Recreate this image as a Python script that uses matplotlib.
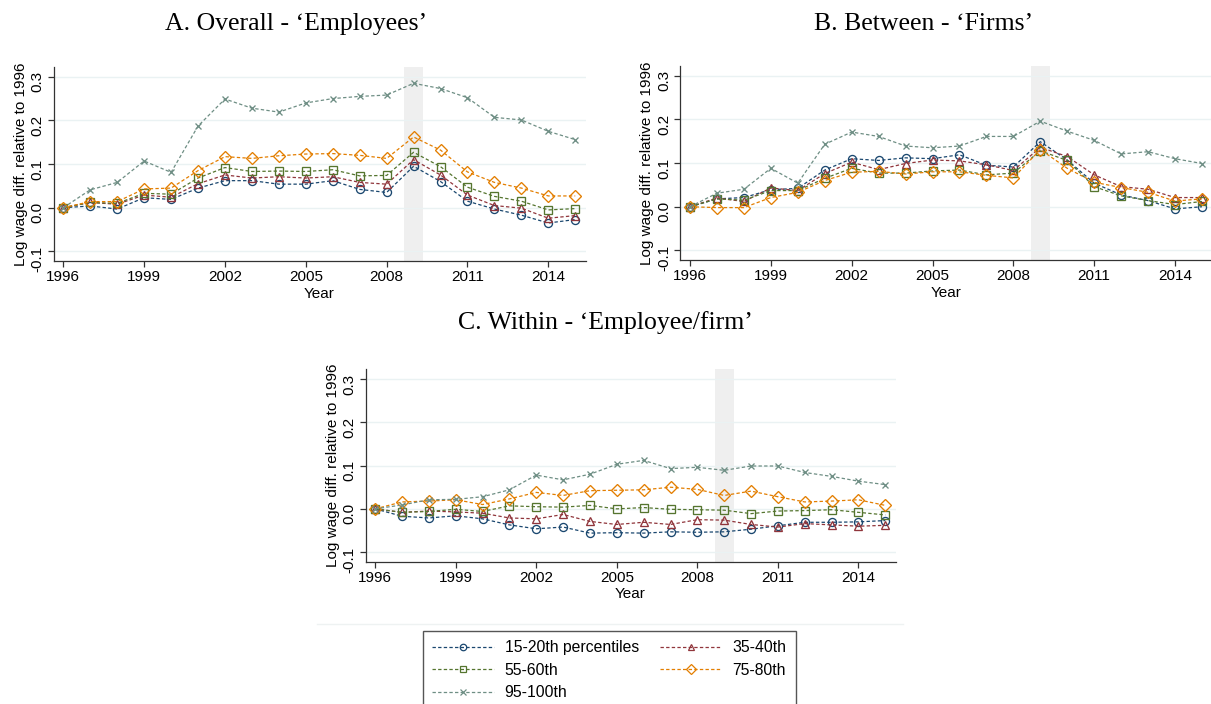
import matplotlib
matplotlib.use("Agg")
import matplotlib.pyplot as plt
from matplotlib.lines import Line2D

years = list(range(1996, 2016))
xticks = [1996, 1999, 2002, 2005, 2008, 2011, 2014]
yticks = [-0.1, 0.0, 0.1, 0.2, 0.3]
ytick_labels = ["-0.1", "0.0", "0.1", "0.2", "0.3"]

# A. overall
a_p15 = [0, 0.004, -0.003, 0.023, 0.019, 0.045, 0.062, 0.062, 0.054, 0.054, 0.062, 0.042, 0.035, 0.095, 0.060, 0.015, -0.003, -0.017, -0.035, -0.027]
a_p35 = [0, 0.012, 0.008, 0.029, 0.024, 0.055, 0.075, 0.068, 0.071, 0.068, 0.071, 0.058, 0.054, 0.110, 0.075, 0.029, 0.005, -0.001, -0.024, -0.018]
a_p55 = [0, 0.012, 0.010, 0.033, 0.031, 0.068, 0.092, 0.083, 0.084, 0.083, 0.087, 0.073, 0.074, 0.127, 0.094, 0.047, 0.026, 0.015, -0.005, -0.002]
a_p75 = [0, 0.014, 0.014, 0.043, 0.045, 0.085, 0.117, 0.113, 0.119, 0.123, 0.124, 0.120, 0.113, 0.162, 0.132, 0.082, 0.058, 0.045, 0.027, 0.027]
a_p95 = [0, 0.041, 0.058, 0.107, 0.081, 0.187, 0.249, 0.228, 0.219, 0.240, 0.250, 0.255, 0.258, 0.285, 0.273, 0.252, 0.207, 0.201, 0.175, 0.156]

# B. between
b_p15 = [0, 0.018, 0.021, 0.039, 0.042, 0.084, 0.110, 0.106, 0.112, 0.110, 0.119, 0.095, 0.091, 0.149, 0.107, 0.054, 0.027, 0.014, -0.005, 0.000]
b_p35 = [0, 0.020, 0.012, 0.043, 0.037, 0.076, 0.102, 0.085, 0.099, 0.107, 0.105, 0.096, 0.083, 0.136, 0.115, 0.073, 0.046, 0.040, 0.021, 0.021]
b_p55 = [0, 0.018, 0.015, 0.037, 0.037, 0.065, 0.088, 0.077, 0.077, 0.082, 0.084, 0.073, 0.077, 0.128, 0.106, 0.046, 0.025, 0.014, 0.005, 0.012]
b_p75 = [0, -0.002, -0.002, 0.021, 0.033, 0.060, 0.079, 0.081, 0.075, 0.080, 0.080, 0.072, 0.066, 0.131, 0.088, 0.056, 0.044, 0.033, 0.013, 0.018]
b_p95 = [0, 0.031, 0.040, 0.088, 0.054, 0.143, 0.171, 0.161, 0.139, 0.135, 0.139, 0.161, 0.161, 0.196, 0.173, 0.152, 0.121, 0.126, 0.110, 0.099]

# C. within
c_p15 = [0, -0.017, -0.021, -0.016, -0.023, -0.037, -0.046, -0.042, -0.056, -0.055, -0.056, -0.053, -0.054, -0.053, -0.047, -0.039, -0.031, -0.031, -0.030, -0.027]
c_p35 = [0, -0.008, -0.005, -0.007, -0.010, -0.021, -0.023, -0.013, -0.029, -0.036, -0.031, -0.036, -0.025, -0.026, -0.036, -0.042, -0.034, -0.037, -0.040, -0.038]
c_p55 = [0, -0.008, -0.006, -0.001, -0.006, 0.007, 0.005, 0.004, 0.008, 0.000, 0.003, -0.001, -0.002, -0.003, -0.011, -0.005, -0.004, -0.002, -0.008, -0.014]
c_p75 = [0, 0.016, 0.018, 0.021, 0.010, 0.023, 0.038, 0.031, 0.042, 0.043, 0.044, 0.050, 0.045, 0.031, 0.041, 0.028, 0.016, 0.018, 0.021, 0.008]
c_p95 = [0, 0.009, 0.021, 0.022, 0.028, 0.044, 0.078, 0.067, 0.080, 0.103, 0.112, 0.093, 0.096, 0.089, 0.099, 0.099, 0.084, 0.075, 0.064, 0.056]

labels = ["15-20th percentiles", "35-40th", "55-60th", "75-80th", "95-100th"]
colors = ["#1a476f", "#90353b", "#55752f", "#e37e00", "#6e8e84"]
markers = ["o", "^", "s", "D", "x"]
msizes = [5.8, 5.8, 5.3, 6.3, 4.7]

panels = [
    ("A. Overall - \u2018Employees\u2019", [a_p15, a_p35, a_p55, a_p75, a_p95]),
    ("B. Between - \u2018Firms\u2019", [b_p15, b_p35, b_p55, b_p75, b_p95]),
    ("C. Within - \u2018Employee/firm\u2019", [c_p15, c_p35, c_p55, c_p75, c_p95]),
]

W, H = 1211, 704
# axes boxes in pixels: left, right, top, bottom
boxes = [(53.6, 585.5, 66.7, 261), (680.3, 1212.2, 65.7, 260), (365.5, 895.5, 369, 561.7)]
title_pos = [(296, 30), (924, 30), (605, 329)]

plt.rcParams['font.family'] = ['Liberation Sans', 'DejaVu Sans']

fig = plt.figure(figsize=(W / 100, H / 100), dpi=100)
fig.patch.set_facecolor("white")

for (title, series), (l, r, t, b), (tx, ty) in zip(panels, boxes, title_pos):
    ax = fig.add_axes([l / W, 1 - b / H, (r - l) / W, (b - t) / H])
    ax.axvspan(2008.65, 2009.35, color="#efefef", lw=0, zorder=0)
    for y in yticks:
        ax.axhline(y, color="#eaf2f3", lw=1, zorder=0.5)
    for vals, c, m, ms in zip(series, colors, markers, msizes):
        ax.plot(years, vals, color=c, lw=0.9, linestyle=(0, (2.7, 1.8)),
                marker=m, markersize=ms, markerfacecolor="none",
                markeredgecolor=c, markeredgewidth=0.95, zorder=3)
    ax.set_xlim(1995.64, 2015.38)
    ax.set_ylim(-0.122, 0.323)
    ax.set_xticks(xticks)
    ax.set_yticks(yticks)
    ax.set_yticklabels(ytick_labels)
    ax.tick_params(axis="y", labelrotation=90, length=4.1, width=0.9, pad=2.2,
                   labelsize=11, color="#333333")
    ax.tick_params(axis="x", length=4.1, width=0.9, pad=2.5, labelsize=11,
                   color="#333333")
    for s in ["top", "right"]:
        ax.spines[s].set_visible(False)
    for s in ["left", "bottom"]:
        ax.spines[s].set_color("#333333")
        ax.spines[s].set_linewidth(0.9)
    ax.set_xlabel("Year", fontsize=11)
    ax.xaxis.set_label_coords(0.5, -0.132)
    ax.set_ylabel("Log wage diff. relative to 1996", fontsize=11)
    ax.yaxis.set_label_coords(-0.049, 0.5)
    fig.text(tx / W, 1 - ty / H, title, ha="center", va="baseline",
             fontsize=18.5, family=["Liberation Serif", "DejaVu Serif"])

# light separator above legend
fig.add_artist(Line2D([317 / W, 903 / W], [1 - 624 / H, 1 - 624 / H],
                      color="#eef2f2", lw=1))

handles = []
for lab, c, m, ms in zip(labels, colors, markers, msizes):
    handles.append(Line2D([], [], color=c, lw=0.9, linestyle=(0, (2.7, 1.8)),
                          marker=m, markersize=ms * 0.8, markerfacecolor="none",
                          markeredgecolor=c, markeredgewidth=0.9, label=lab))
order = [0, 2, 4, 1, 3]
leg = fig.legend([handles[i] for i in order], [labels[i] for i in order],
                 loc="upper left", bbox_to_anchor=(423 / W, 1 - 631 / H),
                 ncol=2, fontsize=11.3, frameon=True, fancybox=False,
                 edgecolor="#555555", framealpha=1, handlelength=3.9,
                 handletextpad=0.7, columnspacing=1.35, borderpad=0.6,
                 labelspacing=0.48, borderaxespad=0)
leg.get_frame().set_linewidth(1)

fig.savefig("out.png", dpi=100)
